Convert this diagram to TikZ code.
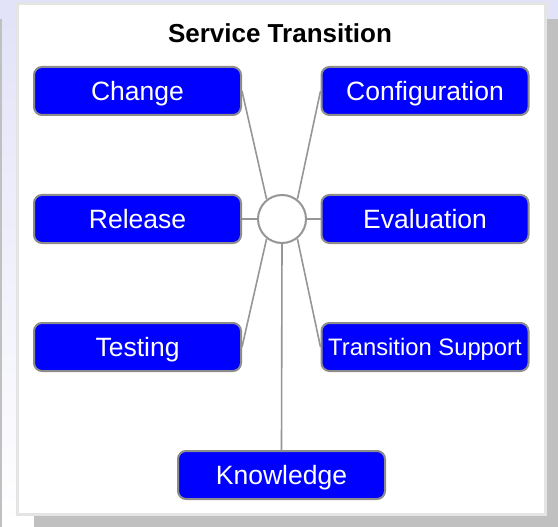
\documentclass[tikz,border=0pt]{standalone}
\usepackage{fontspec}
\setmainfont{Liberation Sans}
\definecolor{lavender}{RGB}{226,226,248}
\definecolor{shadowgray}{RGB}{192,192,192}
\definecolor{panelgray}{RGB}{228,228,228}
\definecolor{boxgray}{RGB}{140,140,140}
\definecolor{boxblue}{RGB}{0,0,255}
\definecolor{linkgray}{RGB}{150,150,150}
\begin{document}
\begin{tikzpicture}[x=1pt,y=-1pt,
  box/.style={draw=boxgray, line width=2pt, fill=boxblue, rounded corners=8pt,
    minimum width=207pt, minimum height=48pt, inner sep=0pt, text=white,
    font=\fontsize{26.5}{30}\selectfont, text height=19pt, text depth=0pt},
  smallbox/.style={box, font=\fontsize{23.8}{27}\selectfont, text height=17pt},
  hub/.style={circle, draw=linkgray, fill=white, line width=2pt,
    minimum size=48pt, inner sep=0pt},
  link/.style={draw=linkgray, line width=1.6pt},
  heading/.style={font=\bfseries\fontsize{26}{30}\selectfont, inner sep=0pt, anchor=base}]
\useasboundingbox (0,0) rectangle (558,527);
% backdrop, shadows and panel
\shade[top color=lavender, bottom color=white] (0,0) rectangle (558,527);
\fill[shadowgray] (0,19) rectangle (2,527);
\fill[shadowgray] (34,19) rectangle (558,527);
\filldraw[fill=white, draw=panelgray, line width=2.5pt] (17.5,3.5) rectangle (545.5,514.5);
% title
\node[heading] (title) at (280,42.5) {Service Transition};
% hub and process boxes
\node[hub] (hub) at (282,219) {};
\node[box] (change) at (137.5,91) {Change};
\node[box] (config) at (425,91) {Configuration};
\node[box] (release) at (137.5,219) {Release};
\node[box] (eval) at (425,219) {Evaluation};
\node[box] (testing) at (137.5,347) {Testing};
\node[smallbox] (support) at (425,347) {Transition Support};
\node[box] (knowledge) at (281.5,475) {Knowledge};
% spokes
\draw[link] (change.east) -- (hub.128);
\draw[link] (config.west) -- (hub.52);
\draw[link] (release.east) -- (hub.west);
\draw[link] (eval.west) -- (hub.east);
\draw[link] (testing.east) -- (hub.232);
\draw[link] (support.west) -- (hub.308);
\draw[link] (hub.south) -- (knowledge.north);
\end{tikzpicture}
\end{document}
